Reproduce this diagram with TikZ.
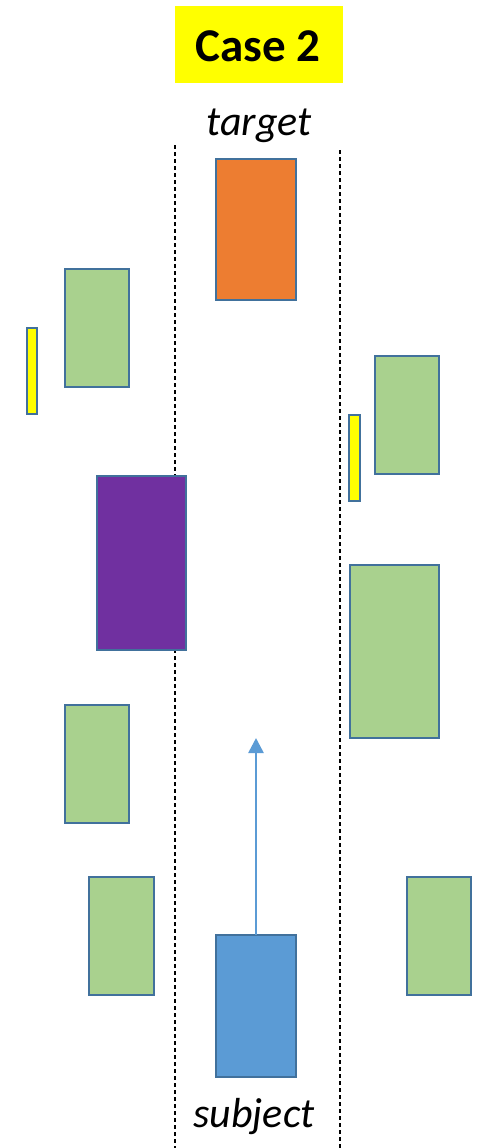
\documentclass[tikz,border=0pt]{standalone}
\usepackage{fontspec}
\setmainfont{Carlito}
\usetikzlibrary{arrows.meta}
\definecolor{edgeblue}{HTML}{41719C}
\definecolor{orangefill}{HTML}{ED7D31}
\definecolor{greenfill}{HTML}{A9D18E}
\definecolor{purplefill}{HTML}{7030A0}
\definecolor{bluefill}{HTML}{5B9BD5}
\definecolor{titleyellow}{HTML}{FFFF00}
\tikzset{
  car/.style={draw=edgeblue, line width=2.6pt, anchor=north west, inner sep=0pt, outer sep=0pt},
  lane/.style={draw=black, line width=1.1pt, dash pattern=on 4pt off 3pt},
  label/.style={anchor=base, inner sep=0pt},
  motion/.style={draw=bluefill, line width=2.6pt, -{Triangle[length=15pt, width=15pt]}}
}
\newcommand{\carbox}[6]{% name, x1, y1, x2, y2, fill
  \node[car, fill=#6, minimum width={(#4-#2)*1pt}, minimum height={(#5-#3)*1pt}] (#1) at (#2,#3) {};}
\begin{document}
\begin{tikzpicture}[x=1pt, y=-1pt]
\useasboundingbox (0,0) rectangle (485,1148);
% title
\node[fill=titleyellow, minimum width=168pt, minimum height=77pt, inner sep=0pt, anchor=north west] (titlebox) at (175,6) {};
\node[label, font=\bfseries\fontsize{47}{50}\selectfont] (title) at (258,62) {Case 2};
% lanes
\coordinate (ltop) at (175,145);
\coordinate (lbot) at (175,1148);
\coordinate (rtop) at (340,150);
\coordinate (rbot) at (340,1148);
\draw[lane] (ltop) -- (lbot);
\draw[lane] (rtop) -- (rbot);
% labels
\node[label, font=\itshape\fontsize{42}{46}\selectfont] (tlabel) at (259,135) {target};
\node[label, font=\itshape\fontsize{42}{46}\selectfont] (slabel) at (254,1127) {subject};
% vehicles
\carbox{target}{216}{159}{296}{300}{orangefill}
\carbox{g1}{65}{269}{129}{387}{greenfill}
\carbox{y1}{27}{328}{37}{414}{titleyellow}
\carbox{g2}{375}{356}{439}{474}{greenfill}
\carbox{y2}{349}{415}{360}{501}{titleyellow}
\carbox{purple}{97}{476}{186}{650}{purplefill}
\carbox{g3}{350}{565}{439}{738}{greenfill}
\carbox{g4}{65}{705}{129}{823}{greenfill}
\carbox{g5}{89}{877}{154}{995}{greenfill}
\carbox{g6}{407}{877}{471}{995}{greenfill}
\carbox{subject}{216}{935}{296}{1077}{bluefill}
% motion arrow
\coordinate (arrowend) at (256,738);
\draw[motion] (subject.north) -- (arrowend);
\end{tikzpicture}
\end{document}
